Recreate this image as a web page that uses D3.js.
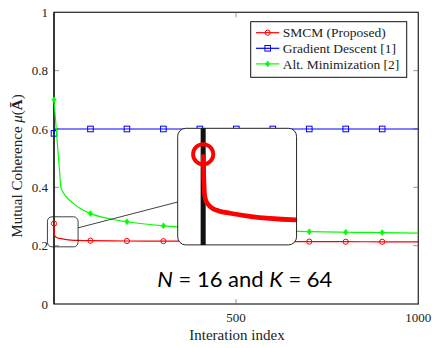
<!DOCTYPE html>
<html>
<head>
<meta charset="utf-8">
<script src="https://cdn.jsdelivr.net/npm/d3@7"></script>
<style>
  body { margin: 0; background: #fff; }
  svg { display: block; }
</style>
</head>
<body>
<svg id="chart" width="432" height="348"></svg>
<script>
// ---- data ----
var smcmIter = [1, 2, 3, 5, 8, 12, 20, 35, 67, 101, 201, 301, 401, 501, 601, 701, 801, 901, 1000];
var smcmVal  = [0.276, 0.240, 0.235, 0.231, 0.228, 0.226, 0.224, 0.221, 0.218, 0.217, 0.216, 0.2155, 0.215, 0.2145, 0.214, 0.2138, 0.2135, 0.2132, 0.213];

var gdIter = [1, 6, 101, 201, 301, 401, 501, 601, 701, 801, 901, 1000];
var gdVal  = [0.585, 0.6, 0.6, 0.6, 0.6, 0.6, 0.6, 0.6, 0.6, 0.6, 0.6, 0.6];

var amIter = [1, 5, 10, 15, 20, 25, 31, 40, 54, 72, 101, 151, 201, 301, 401, 501, 601, 701, 801, 901, 1000];
var amVal  = [0.70, 0.635, 0.555, 0.475, 0.40, 0.385, 0.373, 0.36, 0.345, 0.328, 0.31, 0.293, 0.282, 0.268, 0.26, 0.255, 0.251, 0.248, 0.246, 0.245, 0.243];

var seriesNames = ["SMCM (Proposed)", "Gradient Descent [1]", "Alt. Minimization [2]"];
var seriesColors = ["#ff0000", "#0000ff", "#00ff00"];
var seriesMarks = ["circle", "square", "diamond"];

var yTicks = [0, 0.2, 0.4, 0.6, 0.8, 1];
var xTicks = [500, 1000];

// ---- layout ----
var W = 432, H = 348;
var L = 54, R = 418.3, T = 12.3, B = 304;
var SERIF = "'Liberation Serif', serif";

var svg = d3.select("#chart");
var x = d3.scaleLinear().domain([1, 1000]).range([L, R]);
var y = d3.scaleLinear().domain([0, 1]).range([B, T]);

var series = [
  { name: seriesNames[0], color: seriesColors[0], mark: seriesMarks[0], pts: d3.zip(smcmIter, smcmVal) },
  { name: seriesNames[1], color: seriesColors[1], mark: seriesMarks[1], pts: d3.zip(gdIter, gdVal) },
  { name: seriesNames[2], color: seriesColors[2], mark: seriesMarks[2], pts: d3.zip(amIter, amVal) }
];

var line = d3.line()
  .x(function(d) { return x(d[0]); })
  .y(function(d) { return y(d[1]); })
  .curve(d3.curveMonotoneX);

function drawMark(g, kind, cx, cy, color) {
  if (kind == "circle") {
    g.append("circle").attr("cx", cx).attr("cy", cy).attr("r", 2.6)
      .attr("fill", "none").attr("stroke", color).attr("stroke-width", 1);
  } else if (kind == "square") {
    g.append("rect").attr("x", cx - 2.8).attr("y", cy - 2.8).attr("width", 5.6).attr("height", 5.6)
      .attr("fill", "none").attr("stroke", color).attr("stroke-width", 1);
  } else {
    g.append("path").attr("d", "M" + cx + "," + (cy - 3) + "L" + (cx + 2.2) + "," + cy + "L" + cx + "," + (cy + 3) + "L" + (cx - 2.2) + "," + cy + "Z")
      .attr("fill", color).attr("stroke", color).attr("stroke-width", 0.6);
  }
}

// plot content: left axis line + curves (also reused for the magnified inset)
function drawContent(g) {
  g.append("line").attr("x1", L).attr("x2", L).attr("y1", T).attr("y2", B)
    .attr("stroke", "#111").attr("stroke-width", 1.3);
  series.forEach(function(s) {
    g.append("path").datum(s.pts).attr("d", line)
      .attr("fill", "none").attr("stroke", s.color).attr("stroke-width", 1.2);
    s.pts.forEach(function(p) {
      if ((p[0] - 1) % 100 == 0) drawMark(g, s.mark, x(p[0]), y(p[1]), s.color);
    });
  });
}

// frame
svg.append("rect").attr("x", L).attr("y", T).attr("width", R - L).attr("height", B - T)
  .attr("fill", "none").attr("stroke", "#333").attr("stroke-width", 1.3);

// ticks (inside, both sides)
yTicks.forEach(function(v) {
  if (v == 0 || v == 1) return;
  svg.append("line").attr("x1", L).attr("x2", L + 5).attr("y1", y(v)).attr("y2", y(v)).attr("stroke", "#555").attr("stroke-width", 0.6);
  svg.append("line").attr("x1", R).attr("x2", R - 5).attr("y1", y(v)).attr("y2", y(v)).attr("stroke", "#555").attr("stroke-width", 0.6);
});
xTicks.forEach(function(v) {
  if (v == 1000) return;
  svg.append("line").attr("x1", x(v)).attr("x2", x(v)).attr("y1", B).attr("y2", B - 5).attr("stroke", "#555").attr("stroke-width", 0.6);
  svg.append("line").attr("x1", x(v)).attr("x2", x(v)).attr("y1", T).attr("y2", T + 5).attr("stroke", "#555").attr("stroke-width", 0.6);
});

// tick labels
svg.selectAll(".ylab").data(yTicks).enter().append("text")
  .attr("x", L - 6).attr("y", function(d) { return y(d); }).attr("dy", "0.35em")
  .attr("text-anchor", "end").attr("fill", "#222")
  .style("font-family", SERIF).style("font-size", "13px")
  .text(function(d) { return d3.format("~g")(d); });
svg.selectAll(".xlab").data(xTicks).enter().append("text")
  .attr("x", function(d) { return x(d); }).attr("y", 322)
  .attr("text-anchor", "middle").attr("fill", "#222")
  .style("font-family", SERIF).style("font-size", "13px")
  .text(function(d) { return d; });

// axis titles
svg.append("text").attr("x", 237).attr("y", 340).attr("text-anchor", "middle").attr("fill", "#222")
  .style("font-family", SERIF).style("font-size", "15px").text("Interation index");
var yl = svg.append("text").attr("transform", "translate(22,166) rotate(-90)")
  .attr("text-anchor", "middle").attr("fill", "#222")
  .style("font-family", SERIF).style("font-size", "15px");
yl.append("tspan").text("Mutual Coherence ");
yl.append("tspan").style("font-style", "italic").text("\u03bc");
yl.append("tspan").text("(");
yl.append("tspan").style("font-weight", "bold").text("A\u0304");
yl.append("tspan").text(")");

// main plot
var main = svg.append("g");
drawContent(main);

// legend
var lg = svg.append("g").attr("transform", "translate(250.7,21.7)");
lg.append("rect").attr("width", 156).attr("height", 55.6).attr("fill", "#fff").attr("stroke", "#111").attr("stroke-width", 1);
series.forEach(function(s, i) {
  var yy = 11 + i * 15.6;
  lg.append("line").attr("x1", 5.3).attr("x2", 28.6).attr("y1", yy).attr("y2", yy).attr("stroke", s.color).attr("stroke-width", 1.2);
  drawMark(lg, s.mark, 17, yy, s.color);
  lg.append("text").attr("x", 32).attr("y", yy).attr("dy", "0.35em").attr("fill", "#222")
    .style("font-family", SERIF).style("font-size", "13.5px").text(s.name);
});

// spy / magnified inset
var spyX = [-17, 67], spyY = [0.196, 0.299];
var k = 3.88;
var sx0 = x(spyX[0]), sx1 = x(spyX[1]), sy0 = y(spyY[1]), sy1 = y(spyY[0]);
var bx0 = 177.7, by0 = 128.3;
var bw = (sx1 - sx0) * k, bh = (sy1 - sy0) * k;

// connector between the two box centers, clipped to the box edges
var c1 = [(sx0 + sx1) / 2, (sy0 + sy1) / 2], c2 = [bx0 + bw / 2, by0 + bh / 2];
var t1 = ((sx1 - c1[0]) / (c2[0] - c1[0]));
svg.append("line").attr("x1", sx1).attr("y1", c1[1] + t1 * (c2[1] - c1[1]))
  .attr("x2", c2[0]).attr("y2", c2[1]).attr("stroke", "#111").attr("stroke-width", 0.8);

svg.append("rect").attr("x", sx0).attr("y", sy0).attr("width", sx1 - sx0).attr("height", sy1 - sy0)
  .attr("rx", 4.5).attr("fill", "none").attr("stroke", "#111").attr("stroke-width", 0.8);

var defs = svg.append("defs");
defs.append("clipPath").attr("id", "spyclip").append("rect")
  .attr("x", bx0).attr("y", by0).attr("width", bw).attr("height", bh).attr("rx", 8);
svg.append("rect").attr("x", bx0).attr("y", by0).attr("width", bw).attr("height", bh).attr("rx", 8).attr("fill", "#fff");
var zoomG = svg.append("g").attr("clip-path", "url(#spyclip)")
  .append("g").attr("transform", "translate(" + bx0 + "," + by0 + ") scale(" + k + ") translate(" + (-sx0) + "," + (-sy0) + ")");
drawContent(zoomG);
svg.append("rect").attr("x", bx0).attr("y", by0).attr("width", bw).attr("height", bh).attr("rx", 8)
  .attr("fill", "none").attr("stroke", "#111").attr("stroke-width", 0.9);

// annotation
var ann = svg.append("text").attr("x", 157.3).attr("y", 286.7).attr("fill", "#000")
  .attr("textLength", 175).attr("lengthAdjust", "spacing")
  .style("font-family", "Lato, sans-serif").style("font-size", "22px");
ann.append("tspan").style("font-style", "italic").text("N");
ann.append("tspan").text(" = 16 and ");
ann.append("tspan").style("font-style", "italic").text("K");
ann.append("tspan").text(" = 64");
</script>
</body>
</html>
